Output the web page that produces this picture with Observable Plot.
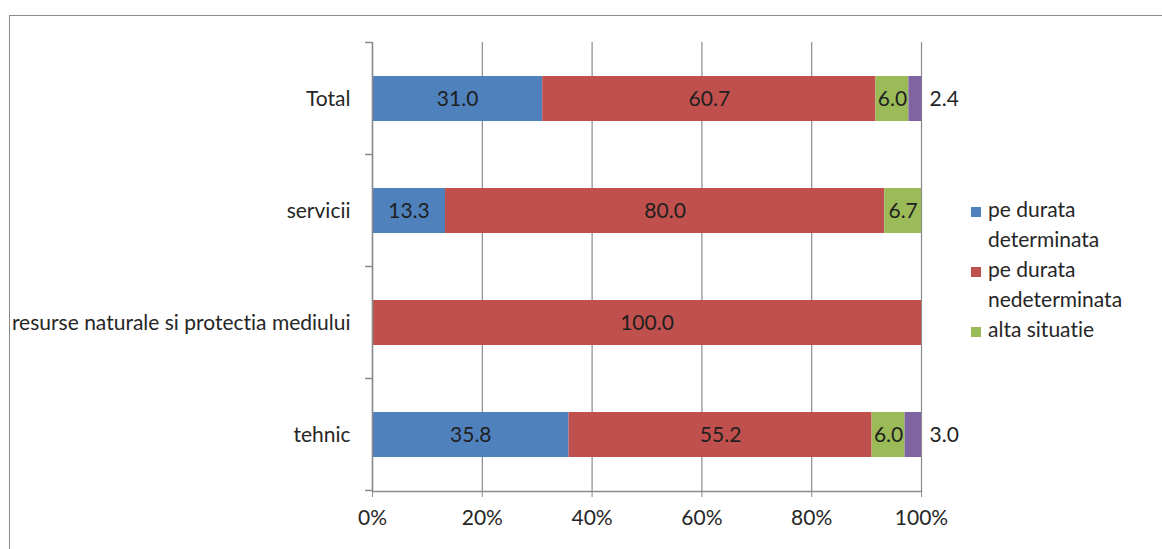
<!DOCTYPE html>
<html>
<head>
<meta charset="utf-8">
<script src="https://cdn.jsdelivr.net/npm/d3@7"></script>
<script src="https://cdn.jsdelivr.net/npm/@observablehq/plot@0.6"></script>
<style>
  html, body { margin: 0; padding: 0; background: #fff; }
  #wrap { position: relative; width: 1162px; height: 549px; overflow: hidden; font-family: Lato, "Open Sans", sans-serif; font-variant-ligatures: none; }
  #frame { position: absolute; left: 9px; top: 15px; width: 1200px; height: 600px; border-left: 1.5px solid #8c8c8c; border-top: 1.5px solid #8c8c8c; box-sizing: border-box; }
  #chart { position: absolute; left: 0; top: 0; }
  #chart svg text { font-variant-ligatures: none; }
  #legend { position: absolute; left: 971px; top: 194px; font-size: 21px; color: #262626; line-height: 30px; }
  .li { position: relative; padding-left: 17px; width: 180px; }
  .sw { position: absolute; left: 0; top: 13px; width: 10px; height: 10px; }
</style>
</head>
<body>
<div id="wrap">
  <div id="frame"></div>
  <div id="chart"></div>
  <div id="legend"></div>
</div>
<script>
const categories = ["Total", "servicii", "resurse naturale si protectia mediului", "tehnic"];
const seriesNames = ["pe durata determinata", "pe durata nedeterminata", "alta situatie", "alta"];
const legendLines = [["pe durata", "determinata"], ["pe durata", "nedeterminata"], ["alta situatie"]];
const colors = ["#4f81bd", "#c0504d", "#9bbb59", "#8064a2"];
const determinata   = [31.0, 13.3, 0, 35.8];
const nedeterminata = [60.7, 80.0, 100.0, 55.2];
const altaSituatie  = [6.0, 6.7, 0, 6.0];
const alta          = [2.4, 0, 0, 3.0];
const xTicks = [0, 20, 40, 60, 80, 100];

const seriesValues = [determinata, nedeterminata, altaSituatie, alta];
const data = [];
categories.forEach((c, i) => {
  seriesValues.forEach((vals, s) => {
    if (vals[i] > 0) data.push({cat: c, series: seriesNames[s], value: vals[i]});
  });
});
const inside = data.filter(d => d.series !== "alta");
const outside = data.filter(d => d.series === "alta");

const W = 1162, H = 549;
const FS = 21;
const plot = Plot.plot({
  width: W,
  height: H,
  marginLeft: 372,
  marginRight: 241,
  marginTop: 42,
  marginBottom: 58,
  style: {fontFamily: "Lato, 'Open Sans', sans-serif", fontSize: FS + "px", color: "#262626", background: "transparent"},
  x: {domain: [0, 100], ticks: xTicks, tickFormat: d => d + "%"},
  y: {domain: categories, paddingInner: 0.6, paddingOuter: 0.3},
  color: {domain: seriesNames, range: colors},
  marks: [
    Plot.gridX(xTicks, {stroke: "#8a8a8a", strokeOpacity: 1, strokeWidth: 1.2}),
    Plot.barX(data, Plot.stackX({x: "value", y: "cat", fill: "series", order: seriesNames})),
    Plot.text(inside, Plot.stackX({x: "value", y: "cat", z: "series", order: seriesNames, text: d => d.value.toFixed(1), fill: "#1f1f1f", fontSize: FS})),
    Plot.text(outside, {x: 100, y: "cat", text: d => d.value.toFixed(1), textAnchor: "start", dx: 8, fill: "#1f1f1f", fontSize: FS}),
    Plot.ruleX([0], {stroke: "#8a8a8a", strokeWidth: 1.5}),
    Plot.frame({anchor: "bottom", stroke: "#8a8a8a", strokeWidth: 1.5}),
    Plot.axisX({ticks: xTicks, tickFormat: d => d + "%", tickSize: 6, tickPadding: 13, stroke: "#8a8a8a", fill: "#262626", label: null, fontSize: FS}),
    Plot.axisY({tickSize: 0, tickPadding: 22, label: null, fill: "#262626", fontSize: FS})
  ]
});
document.getElementById("chart").appendChild(plot);

// band-boundary tick marks on the category axis, from the plot's own y scale
const ys = plot.scale("y");
const svg = d3.select(plot);
const bounds = [];
categories.forEach(c => {
  const center = ys.apply(c) + ys.bandwidth / 2;
  bounds.push(center - ys.step / 2);
});
bounds.push(ys.apply(categories[categories.length - 1]) + ys.bandwidth / 2 + ys.step / 2);
const x0 = plot.scale("x").apply(0);
svg.append("g").selectAll("line").data(bounds).join("line")
  .attr("x1", x0 - 7).attr("x2", x0).attr("y1", d => d).attr("y2", d => d)
  .attr("stroke", "#8a8a8a").attr("stroke-width", 1.5);

// legend
const lg = document.getElementById("legend");
legendLines.forEach((lines, i) => {
  const div = document.createElement("div");
  div.className = "li";
  const sw = document.createElement("span");
  sw.className = "sw";
  sw.style.background = colors[i];
  div.appendChild(sw);
  lines.forEach(t => { const l = document.createElement("div"); l.textContent = t; div.appendChild(l); });
  lg.appendChild(div);
});
</script>
</body>
</html>
